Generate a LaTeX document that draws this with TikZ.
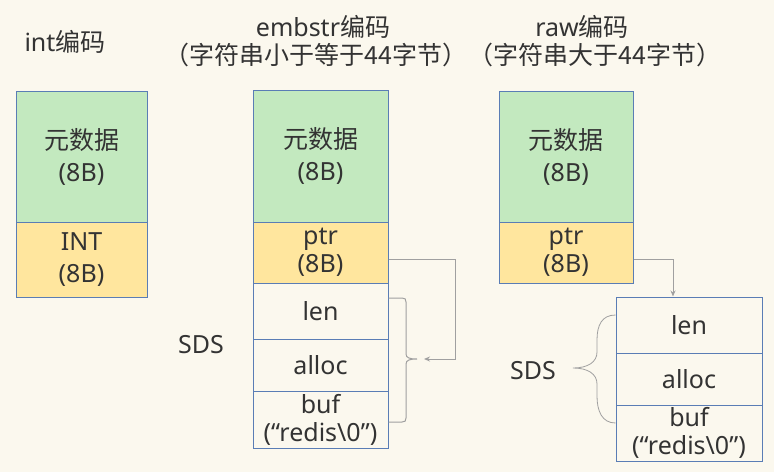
\documentclass[tikz,border=0pt]{standalone}
\usepackage{fontspec}
\setmainfont{Noto Sans}
\newfontfamily\cjk{Noto Sans CJK SC}
\usetikzlibrary{arrows.meta}
\definecolor{bg}{HTML}{FBF8EE}
\definecolor{gr}{HTML}{C3E9BF}
\definecolor{ye}{HTML}{FFE69E}
\definecolor{bd}{HTML}{5A7DB5}
\definecolor{ar}{HTML}{A0A0A0}
\definecolor{tx}{HTML}{333333}
\begin{document}
\begin{tikzpicture}[x=1pt,y=-1pt,
  every node/.style={text=tx},
  cell/.style 2 args={draw=bd,line width=1pt,inner sep=0pt,minimum width=#1,minimum height=#2,align=center,font=\fontsize{25}{32}\selectfont},
  tight/.style={font=\fontsize{25}{28}\selectfont},
  title/.style={inner sep=0pt,font=\fontsize{25}{30}\selectfont},
  conn/.style={draw=ar,line width=1pt},
  tip/.style={-{Stealth[length=6pt,width=5pt]}}]
\fill[bg] (0,0) rectangle (774,472);
\useasboundingbox (0,0) rectangle (774,472);
% titles
\node[title] (t1) at (65,42) {int{\cjk 编码}};
\node[title] (t2) at (323,27) {embstr{\cjk 编码}};
\node[title] (t2b) at (316,55) {\cjk （字符串小于等于44字节）};
\node[title] (t3) at (582,27) {raw{\cjk 编码}};
\node[title] (t3b) at (595,55) {\cjk （字符串大于44字节）};
% int
\node[cell={131pt}{131pt},fill=gr] (im) at (81.5,156.5) {{\cjk 元数据}\\(8B)};
\node[cell={131pt}{75pt},fill=ye] (ii) at (81.5,259.5) {INT\\(8B)};
% embstr
\node[cell={135pt}{132pt},fill=gr] (em) at (320.5,156) {{\cjk 元数据}\\(8B)};
\node[cell={135pt}{61pt},fill=ye,tight] (ep) at (320.5,252.5) {ptr\\(8B)};
\node[cell={135pt}{56pt}] (el) at (320.5,311) {len};
\node[cell={135pt}{52pt}] (ea) at (320.5,365) {alloc};
\node[cell={135pt}{57pt},tight] (eb) at (320.5,419.5) {buf\\(“redis\textbackslash 0”)};
\node[title] (es) at (201,345) {SDS};
% raw
\node[cell={134pt}{131pt},fill=gr] (rm) at (566,156.5) {{\cjk 元数据}\\(8B)};
\node[cell={134pt}{61pt},fill=ye,tight] (rp) at (566,252.5) {ptr\\(8B)};
\node[cell={146pt}{56pt}] (rl) at (689,325) {len};
\node[cell={146pt}{52pt}] (ra) at (689,379) {alloc};
\node[cell={146pt}{56pt},tight] (rb) at (689,433) {buf\\(“redis\textbackslash 0”)};
\node[title] (rs) at (533,371) {SDS};
% embstr brace and arrow
\coordinate (etip) at (417,359);
\draw[conn] (el.east |- 0,298) -- (402,298) .. controls (405,298) and (406,299) .. (406,302)
  -- (406,354) .. controls (406,358) and (410,359) .. (etip)
  .. controls (410,359) and (406,360) .. (406,364) -- (406,418)
  .. controls (406,421) and (405,422) .. (402,422) -- (eb.east |- 0,422);
\coordinate (eend) at (424,359);
\draw[conn,tip] (ep.east |- 0,259) -| (455,359) -- (eend);
% raw arrow and brace
\draw[conn,tip] (rp.east |- 0,259) -| (rl.north -| 673,0);
\coordinate (rtip) at (573,368);
\draw[draw=ar,line width=0.8pt] (rl.west |- 0,315) .. controls (602,315) and (597,325) .. (597,340)
  -- (597,352) .. controls (597,362) and (588,368) .. (rtip)
  .. controls (588,368) and (597,374) .. (597,384) -- (597,396)
  .. controls (597,411) and (602,423) .. (rb.west |- 0,423);
\end{tikzpicture}
\end{document}
